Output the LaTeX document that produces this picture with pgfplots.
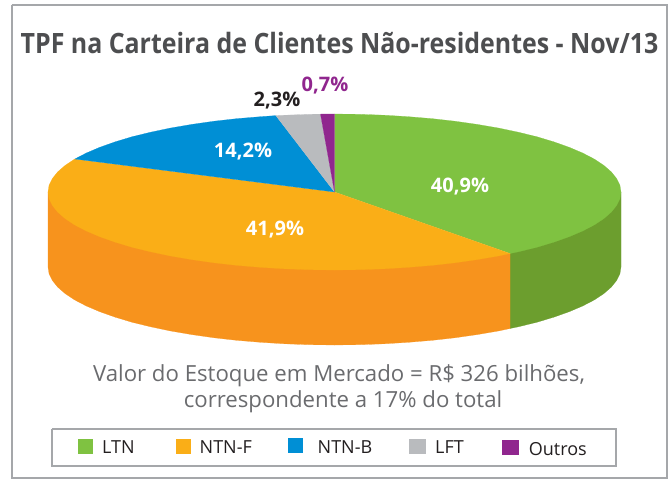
\documentclass[border=0pt]{standalone}
\usepackage{fontspec}
\setmainfont{Open Sans}
\usepackage{pgfplots}
\pgfplotsset{compat=1.18}

\definecolor{cLTN}{HTML}{7FC241}
\definecolor{cLTNside}{HTML}{6C9E2E}
\definecolor{cNTNF}{HTML}{FAAE17}
\definecolor{cNTNFside}{HTML}{F7931D}
\definecolor{cNTNB}{HTML}{008FD5}
\definecolor{cLFT}{HTML}{B9BBBE}
\definecolor{cOutros}{HTML}{90268E}
\definecolor{frame}{HTML}{A5A7AA}
\definecolor{titlegray}{HTML}{4D4E50}
\definecolor{subgray}{HTML}{6A6B6E}
\definecolor{ink}{HTML}{231F20}

\begin{document}
\begin{tikzpicture}
\begin{axis}[
 scale only axis,
 width=672pt, height=479pt,
 xmin=0, xmax=672, ymin=0, ymax=479,
 y dir=reverse,
 hide axis,
 clip=false,
 every axis plot/.append style={no markers},
 slice/.style={fill=#1,draw=#1,line width=0.2pt},
]
% page extent
\addplot[draw=none] coordinates {(0,0) (672,479)};
% outer frame and legend box
\addplot[draw=frame,line width=2pt] coordinates {(11.5,5) (666.5,5) (666.5,478) (11.5,478) (11.5,5)};
\addplot[draw=frame,line width=1.4pt,fill=white] coordinates {(52,429) (616,429) (616,466) (52,466) (52,429)};

% sides
\addplot[slice=cLTNside] coordinates {
 (621,192) (621,267) (619.9,273.8) (616.6,280.5) (611.2,287.2) (603.7,293.7) (594.2,300) (582.6,306)
 (569.2,311.7) (554,317.1) (537.1,322.2) (518.7,326.7) (510,328.5) (510,253.5)};
\addplot[slice=cNTNFside] coordinates {
 (510,253.5) (510,328.5) (498.8,330.9) (477.8,334.5) (455.6,337.7) (432.5,340.3) (408.6,342.3) (384.2,343.8)
 (359.5,344.7) (334.5,345) (309.5,344.7) (284.8,343.8) (260.4,342.3) (236.5,340.3) (213.4,337.7) (191.2,334.5)
 (170.2,330.9) (150.3,326.7) (131.9,322.2) (115,317.1) (99.8,311.7) (86.4,306) (74.8,300) (65.3,293.7)
 (57.8,287.2) (52.4,280.5) (49.1,273.8) (48,267) (48,192)};

% top faces
\addplot[slice=cLTN] coordinates {
 (334.5,192) (334.5,114) (359.5,114.3) (384.2,115.2) (408.6,116.7) (432.5,118.7) (455.6,121.3) (477.8,124.5)
 (498.8,128.1) (518.7,132.3) (537.1,136.8) (554,141.9) (569.2,147.3) (582.6,153) (594.2,159) (603.7,165.3)
 (611.2,171.8) (616.6,178.5) (619.9,185.2) (621,192) (619.9,198.8) (616.6,205.5) (611.2,212.2) (603.7,218.7)
 (594.2,225) (582.6,231) (569.2,236.7) (554,242.1) (537.1,247.2) (518.7,251.7) (510,253.5)};
\addplot[slice=cNTNF] coordinates {
 (334.5,192) (510,253.5) (498.8,255.9) (477.8,259.5) (455.6,262.7) (432.5,265.3) (408.6,267.3) (384.2,268.8)
 (359.5,269.7) (334.5,270) (309.5,269.7) (284.8,268.8) (260.4,267.3) (236.5,265.3) (213.4,262.7) (191.2,259.5)
 (170.2,255.9) (150.3,251.7) (131.9,247.2) (115,242.1) (99.8,236.7) (86.4,231) (74.8,225) (65.3,218.7)
 (57.8,212.2) (52.4,205.5) (49.1,198.8) (48,192) (49.1,185.2) (52.4,178.5) (57.8,171.8) (65.3,165.3) (74.8,159)};
\addplot[slice=cNTNB] coordinates {
 (334.5,192) (74.8,159) (86.4,153) (99.8,147.3) (115,141.9) (131.9,136.8) (150.3,132.3) (170.2,128.1)
 (191.2,124.5) (213.4,121.3) (236.5,118.7) (260.4,116.7) (275.9,115.6)};
\addplot[slice=cLFT] coordinates {
 (334.5,192) (275.9,115.6) (284.8,115.2) (309.5,114.3) (320.5,114.1)};
\addplot[slice=cOutros] coordinates {
 (334.5,192) (320.5,114.1) (334.5,114)};

% legend swatches
\addplot[fill=cLTN,draw=none] coordinates {(78,439) (93,439) (93,454) (78,454)};
\addplot[fill=cNTNF,draw=none] coordinates {(176,439) (191,439) (191,454) (176,454)};
\addplot[fill=cNTNB,draw=none] coordinates {(288,438) (303,438) (303,453) (288,453)};
\addplot[fill=cLFT,draw=none] coordinates {(409,439) (426,439) (426,454) (409,454)};
\addplot[fill=cOutros,draw=none] coordinates {(502,440) (519,440) (519,455) (502,455)};

% title and notes
\node[font=\fontsize{28}{30}\selectfont\bfseries,text=titlegray,xscale=0.89,anchor=center] at (axis cs:339.5,43) {TPF na Carteira de Clientes Não-residentes - Nov/13};
\node[font=\fontsize{22.2}{24}\selectfont,text=subgray,anchor=center] at (axis cs:339,375.5) {Valor do Estoque em Mercado = R\$ 326 bilhões,};
\node[font=\fontsize{22.2}{24}\selectfont,text=subgray,anchor=center] at (axis cs:343,401.5) {correspondente a 17\% do total};

% slice labels
\node[font=\fontsize{20}{24}\selectfont\bfseries,text=white] at (axis cs:460,187) {40,9\%};
\node[font=\fontsize{20}{24}\selectfont\bfseries,text=white] at (axis cs:275,230) {41,9\%};
\node[font=\fontsize{20}{24}\selectfont\bfseries,text=white] at (axis cs:243,151.5) {14,2\%};
\node[font=\fontsize{20}{24}\selectfont\bfseries,text=ink] at (axis cs:277,101) {2,3\%};
\node[font=\fontsize{20}{24}\selectfont\bfseries,text=cOutros] at (axis cs:325,85.5) {0,7\%};

% legend text
\node[font=\fontsize{18}{20}\selectfont,text=ink,anchor=base west,inner sep=0pt] at (axis cs:102,453) {LTN};
\node[font=\fontsize{18}{20}\selectfont,text=ink,anchor=base west,inner sep=0pt] at (axis cs:199.5,453) {NTN-F};
\node[font=\fontsize{18}{20}\selectfont,text=ink,anchor=base west,inner sep=0pt] at (axis cs:317.5,453) {NTN-B};
\node[font=\fontsize{18}{20}\selectfont,text=ink,anchor=base west,inner sep=0pt] at (axis cs:435,453) {LFT};
\node[font=\fontsize{18}{20}\selectfont,text=ink,anchor=base west,inner sep=0pt] at (axis cs:528.7,455) {Outros};
\end{axis}
\end{tikzpicture}
\end{document}
